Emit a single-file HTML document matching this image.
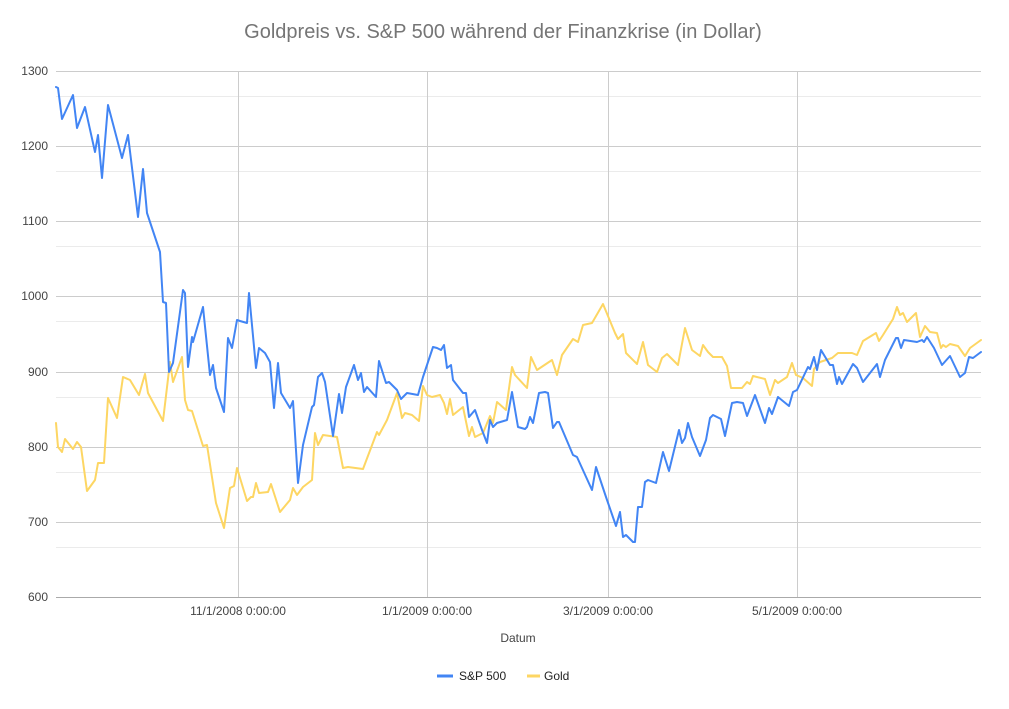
<!DOCTYPE html>
<html><head><meta charset="utf-8"><style>
body{margin:0;background:#fff;}
svg{display:block;font-family:"Liberation Sans",Arial,sans-serif;}
</style></head><body>
<svg width="1009" height="709" viewBox="0 0 1009 709" xmlns="http://www.w3.org/2000/svg">
<rect width="1009" height="709" fill="#fff"/>
<text x="503" y="38" text-anchor="middle" font-size="20" fill="#757575">Goldpreis vs. S&amp;P 500 während der Finanzkrise (in Dollar)</text>
<g stroke="#ebebeb" stroke-width="1">
<line x1="56" x2="981" y1="96.5" y2="96.5"/><line x1="56" x2="981" y1="171.5" y2="171.5"/><line x1="56" x2="981" y1="246.5" y2="246.5"/><line x1="56" x2="981" y1="321.5" y2="321.5"/><line x1="56" x2="981" y1="397.5" y2="397.5"/><line x1="56" x2="981" y1="472.5" y2="472.5"/><line x1="56" x2="981" y1="547.5" y2="547.5"/>
</g>
<g stroke="#cccccc" stroke-width="1">
<line x1="56" x2="981" y1="71.5" y2="71.5"/><line x1="56" x2="981" y1="146.5" y2="146.5"/><line x1="56" x2="981" y1="221.5" y2="221.5"/><line x1="56" x2="981" y1="296.5" y2="296.5"/><line x1="56" x2="981" y1="372.5" y2="372.5"/><line x1="56" x2="981" y1="447.5" y2="447.5"/><line x1="56" x2="981" y1="522.5" y2="522.5"/>
<line x1="238.5" x2="238.5" y1="71" y2="597"/><line x1="427.5" x2="427.5" y1="71" y2="597"/><line x1="608.5" x2="608.5" y1="71" y2="597"/><line x1="797.5" x2="797.5" y1="71" y2="597"/>
</g>
<line x1="56" x2="981" y1="597.5" y2="597.5" stroke="#aaaaaa" stroke-width="1"/>
<g font-size="12" fill="#444" text-anchor="end">
<text x="48" y="75">1300</text><text x="48" y="150">1200</text><text x="48" y="225">1100</text><text x="48" y="300">1000</text><text x="48" y="376">900</text><text x="48" y="451">800</text><text x="48" y="526">700</text><text x="48" y="601">600</text>
</g>
<g font-size="12" fill="#444" text-anchor="middle">
<text x="238" y="615">11/1/2008 0:00:00</text><text x="427" y="615">1/1/2009 0:00:00</text><text x="608" y="615">3/1/2009 0:00:00</text><text x="797" y="615">5/1/2009 0:00:00</text>
<text x="518" y="642">Datum</text>
</g>
<g fill="none" stroke-width="2" stroke-linejoin="round" stroke-linecap="round">
<polyline stroke="#fdd663" points="56,423 58,447 62,452 65,439 73,449 77,442 81,447 87,491 95,480 98,463 104,463 108,398 117,418 123,377 130,380 139,395 145,374 148,393 163,421 170,362 173,382 182,357 185,400 188,410 192,411 203,446 207,445 216,503 224,528 230,488 234,486 237,468 247,501 251,497 253,497 256,483 259,493 268,492 271,484 280,512 290,500 293,488 297,495 303,487 312,480 315,433 318,445 323,435 337,437 343,468 348,467 363,469 377,432 379,435 387,420 397,393 402,418 405,413 412,415 419,421 423,386 427,395 432,397 440,395 444,403 447,414 450,399 453,415 463,407 469,436 472,427 475,437 483,433 490,416 493,423 497,402 506,410 512,367 515,375 527,388 531,357 537,370 552,360 557,375 562,355 573,339 578,342 583,325 592,323 603,304 615,333 618,339 623,334 626,353 637,364 643,342 648,365 657,372 662,358 667,354 678,365 685,328 692,350 700,356 703,345 708,352 713,357 722,357 727,366 731,388 742,388 747,382 750,384 753,376 765,379 770,395 775,380 778,383 787,377 792,363 796,375 803,378 812,386 814,369 820,362 832,358 838,353 852,353 857,355 863,341 876,333 879,341 883,335 893,319 897,307 900,315 903,313 907,322 916,313 920,337 925,326 930,332 937,333 941,348 943,345 946,347 950,344 958,346 965,356 970,348 981,340"/>
<polyline stroke="#4285f4" points="56,87 58,88 62,119 73,95 77,128 85,107 95,152 98,135 102,178 108,105 122,158 128,135 138,217 143,169 147,213 160,252 163,302 166,303 169,372 173,363 183,290 185,293 188,367 192,337 193,342 203,307 210,375 213,365 216,388 224,412 228,338 232,348 237,320 240,321 247,323 249,293 256,368 259,348 265,353 270,362 274,408 278,363 281,393 290,408 293,401 298,483 303,445 312,407 314,405 318,377 322,373 325,382 333,436 339,394 342,413 346,387 354,365 358,380 361,373 364,392 367,387 376,397 379,361 386,383 389,382 397,390 401,399 407,393 418,395 423,377 433,347 437,348 441,350 444,345 447,368 451,365 453,380 463,393 466,393 469,417 475,410 482,430 487,443 490,420 493,427 497,423 507,420 512,392 518,427 525,429 527,427 530,417 533,423 539,393 545,392 548,393 553,428 557,422 559,422 573,455 577,457 592,490 596,467 606,497 616,526 620,512 623,537 626,535 633,542 635,542 638,507 642,507 645,482 648,480 656,483 663,452 669,471 679,430 682,443 685,438 688,423 692,437 700,456 706,440 710,418 713,415 721,419 725,436 732,403 737,402 743,403 747,416 755,395 765,423 769,408 772,414 778,397 789,406 793,392 797,390 808,367 810,369 814,357 817,370 821,350 830,365 833,365 837,384 839,377 842,384 853,364 857,368 863,382 877,364 880,377 885,360 896,338 898,338 901,348 904,340 917,342 922,340 924,342 927,337 934,348 942,365 950,356 960,377 965,373 969,357 973,358 981,352"/>
</g>
<line x1="437" x2="453" y1="676" y2="676" stroke="#4285f4" stroke-width="3"/>
<text x="459" y="680" font-size="12" fill="#222">S&amp;P 500</text>
<line x1="527" x2="540" y1="676" y2="676" stroke="#fdd663" stroke-width="3"/>
<text x="544" y="680" font-size="12" fill="#222">Gold</text>
</svg>
</body></html>
